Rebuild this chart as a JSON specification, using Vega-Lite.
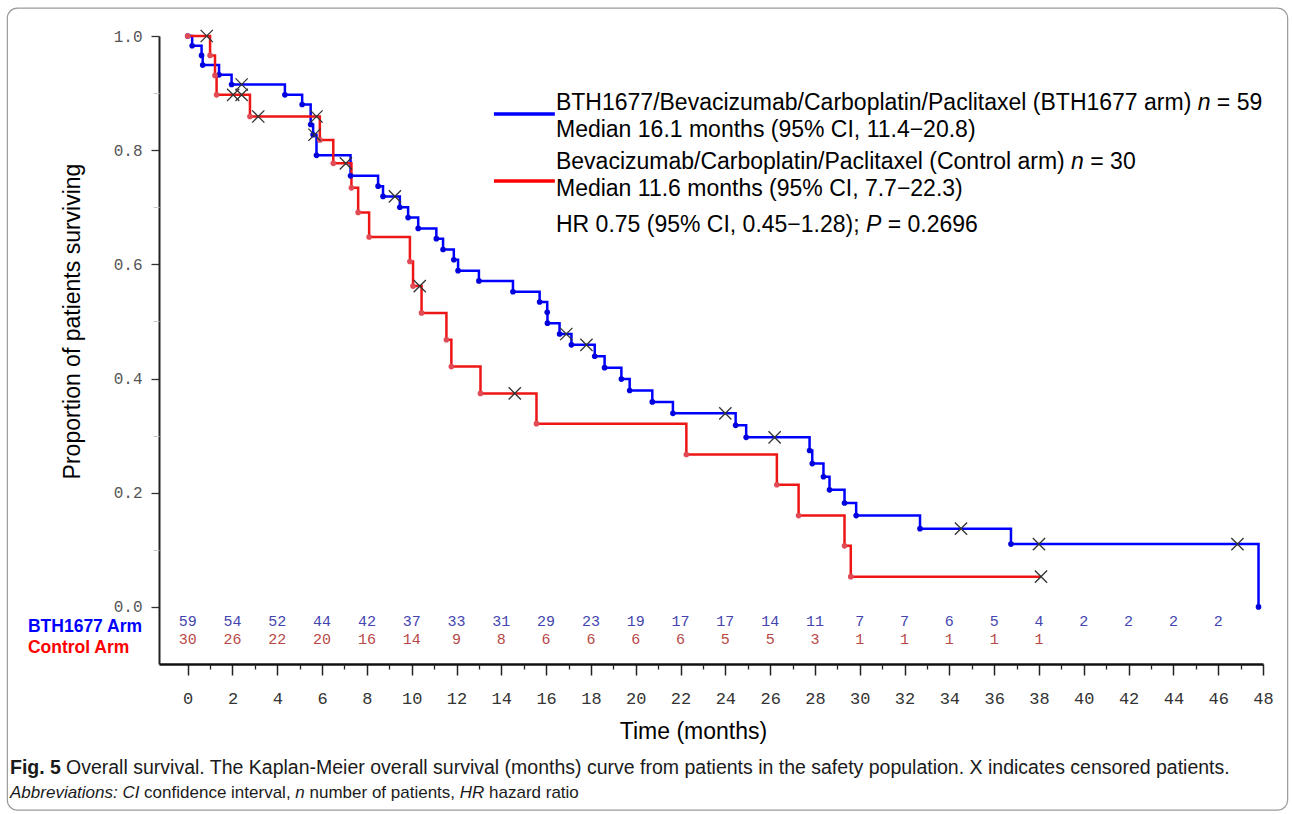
{
  "$schema": "https://vega.github.io/schema/vega-lite/v6.json",
  "width": 1104,
  "height": 628,
  "autosize": {"type": "none"},
  "padding": {"left": 159, "top": 36, "right": 29, "bottom": 150},
  "background": "white",
  "config": {"view": {"stroke": null}},
  "datasets": {
    "km": [
      {"arm": "BTH1677", "time": 0, "surv": 1.0, "kind": "e"},
      {"arm": "BTH1677", "time": 0.2, "surv": 0.983, "kind": "e"},
      {"arm": "BTH1677", "time": 0.62, "surv": 0.966, "kind": "e"},
      {"arm": "BTH1677", "time": 0.67, "surv": 0.949, "kind": "e"},
      {"arm": "BTH1677", "time": 1.4, "surv": 0.932, "kind": "e"},
      {"arm": "BTH1677", "time": 1.96, "surv": 0.915, "kind": "e"},
      {"arm": "BTH1677", "time": 2.41, "surv": 0.915, "kind": "c"},
      {"arm": "BTH1677", "time": 4.34, "surv": 0.897, "kind": "e"},
      {"arm": "BTH1677", "time": 5.11, "surv": 0.88, "kind": "e"},
      {"arm": "BTH1677", "time": 5.49, "surv": 0.845, "kind": "e"},
      {"arm": "BTH1677", "time": 5.6, "surv": 0.827, "kind": "e"},
      {"arm": "BTH1677", "time": 5.66, "surv": 0.827, "kind": "c"},
      {"arm": "BTH1677", "time": 5.75, "surv": 0.791, "kind": "e"},
      {"arm": "BTH1677", "time": 7.27, "surv": 0.755, "kind": "e"},
      {"arm": "BTH1677", "time": 8.5, "surv": 0.737, "kind": "e"},
      {"arm": "BTH1677", "time": 8.72, "surv": 0.719, "kind": "e"},
      {"arm": "BTH1677", "time": 9.25, "surv": 0.719, "kind": "c"},
      {"arm": "BTH1677", "time": 9.47, "surv": 0.7, "kind": "e"},
      {"arm": "BTH1677", "time": 9.84, "surv": 0.682, "kind": "e"},
      {"arm": "BTH1677", "time": 10.29, "surv": 0.663, "kind": "e"},
      {"arm": "BTH1677", "time": 11.1, "surv": 0.645, "kind": "e"},
      {"arm": "BTH1677", "time": 11.4, "surv": 0.626, "kind": "e"},
      {"arm": "BTH1677", "time": 11.88, "surv": 0.608, "kind": "e"},
      {"arm": "BTH1677", "time": 12.07, "surv": 0.589, "kind": "e"},
      {"arm": "BTH1677", "time": 13.0, "surv": 0.571, "kind": "e"},
      {"arm": "BTH1677", "time": 14.52, "surv": 0.552, "kind": "e"},
      {"arm": "BTH1677", "time": 15.71, "surv": 0.534, "kind": "e"},
      {"arm": "BTH1677", "time": 16.05, "surv": 0.516, "kind": "e"},
      {"arm": "BTH1677", "time": 16.06, "surv": 0.497, "kind": "e"},
      {"arm": "BTH1677", "time": 16.6, "surv": 0.478, "kind": "e"},
      {"arm": "BTH1677", "time": 16.9, "surv": 0.478, "kind": "c"},
      {"arm": "BTH1677", "time": 17.13, "surv": 0.459, "kind": "e"},
      {"arm": "BTH1677", "time": 17.8, "surv": 0.459, "kind": "c"},
      {"arm": "BTH1677", "time": 18.17, "surv": 0.439, "kind": "e"},
      {"arm": "BTH1677", "time": 18.61, "surv": 0.419, "kind": "e"},
      {"arm": "BTH1677", "time": 19.36, "surv": 0.399, "kind": "e"},
      {"arm": "BTH1677", "time": 19.73, "surv": 0.379, "kind": "e"},
      {"arm": "BTH1677", "time": 20.74, "surv": 0.359, "kind": "e"},
      {"arm": "BTH1677", "time": 21.66, "surv": 0.339, "kind": "e"},
      {"arm": "BTH1677", "time": 24.0, "surv": 0.339, "kind": "c"},
      {"arm": "BTH1677", "time": 24.46, "surv": 0.318, "kind": "e"},
      {"arm": "BTH1677", "time": 24.93, "surv": 0.297, "kind": "e"},
      {"arm": "BTH1677", "time": 26.2, "surv": 0.297, "kind": "c"},
      {"arm": "BTH1677", "time": 27.76, "surv": 0.274, "kind": "e"},
      {"arm": "BTH1677", "time": 27.88, "surv": 0.251, "kind": "e"},
      {"arm": "BTH1677", "time": 28.38, "surv": 0.228, "kind": "e"},
      {"arm": "BTH1677", "time": 28.65, "surv": 0.205, "kind": "e"},
      {"arm": "BTH1677", "time": 29.32, "surv": 0.182, "kind": "e"},
      {"arm": "BTH1677", "time": 29.84, "surv": 0.16, "kind": "e"},
      {"arm": "BTH1677", "time": 32.69, "surv": 0.137, "kind": "e"},
      {"arm": "BTH1677", "time": 34.52, "surv": 0.137, "kind": "c"},
      {"arm": "BTH1677", "time": 36.75, "surv": 0.11, "kind": "e"},
      {"arm": "BTH1677", "time": 38.0, "surv": 0.11, "kind": "c"},
      {"arm": "BTH1677", "time": 46.86, "surv": 0.11, "kind": "c"},
      {"arm": "BTH1677", "time": 47.8, "surv": 0.0, "kind": "e"},
      {"arm": "Control", "time": 0, "surv": 1.0, "kind": "e"},
      {"arm": "Control", "time": 0.85, "surv": 1.0, "kind": "c"},
      {"arm": "Control", "time": 1.0, "surv": 0.966, "kind": "e"},
      {"arm": "Control", "time": 1.22, "surv": 0.931, "kind": "e"},
      {"arm": "Control", "time": 1.29, "surv": 0.897, "kind": "e"},
      {"arm": "Control", "time": 2.03, "surv": 0.897, "kind": "c"},
      {"arm": "Control", "time": 2.41, "surv": 0.897, "kind": "c"},
      {"arm": "Control", "time": 2.78, "surv": 0.859, "kind": "e"},
      {"arm": "Control", "time": 3.15, "surv": 0.859, "kind": "c"},
      {"arm": "Control", "time": 5.75, "surv": 0.859, "kind": "c"},
      {"arm": "Control", "time": 5.9, "surv": 0.818, "kind": "e"},
      {"arm": "Control", "time": 6.5, "surv": 0.777, "kind": "e"},
      {"arm": "Control", "time": 7.06, "surv": 0.777, "kind": "c"},
      {"arm": "Control", "time": 7.31, "surv": 0.734, "kind": "e"},
      {"arm": "Control", "time": 7.61, "surv": 0.691, "kind": "e"},
      {"arm": "Control", "time": 8.1, "surv": 0.648, "kind": "e"},
      {"arm": "Control", "time": 9.92, "surv": 0.605, "kind": "e"},
      {"arm": "Control", "time": 10.06, "surv": 0.562, "kind": "e"},
      {"arm": "Control", "time": 10.36, "surv": 0.562, "kind": "c"},
      {"arm": "Control", "time": 10.44, "surv": 0.515, "kind": "e"},
      {"arm": "Control", "time": 11.55, "surv": 0.468, "kind": "e"},
      {"arm": "Control", "time": 11.77, "surv": 0.421, "kind": "e"},
      {"arm": "Control", "time": 13.07, "surv": 0.374, "kind": "e"},
      {"arm": "Control", "time": 14.6, "surv": 0.374, "kind": "c"},
      {"arm": "Control", "time": 15.57, "surv": 0.321, "kind": "e"},
      {"arm": "Control", "time": 22.26, "surv": 0.267, "kind": "e"},
      {"arm": "Control", "time": 26.3, "surv": 0.214, "kind": "e"},
      {"arm": "Control", "time": 27.27, "surv": 0.16, "kind": "e"},
      {"arm": "Control", "time": 29.32, "surv": 0.107, "kind": "e"},
      {"arm": "Control", "time": 29.6, "surv": 0.053, "kind": "e"},
      {"arm": "Control", "time": 38.09, "surv": 0.053, "kind": "c"}
    ],
    "risk": [
      {"arm": "BTH1677", "t": 0, "n": 59}, {"arm": "BTH1677", "t": 2, "n": 54}, {"arm": "BTH1677", "t": 4, "n": 52},
      {"arm": "BTH1677", "t": 6, "n": 44}, {"arm": "BTH1677", "t": 8, "n": 42}, {"arm": "BTH1677", "t": 10, "n": 37},
      {"arm": "BTH1677", "t": 12, "n": 33}, {"arm": "BTH1677", "t": 14, "n": 31}, {"arm": "BTH1677", "t": 16, "n": 29},
      {"arm": "BTH1677", "t": 18, "n": 23}, {"arm": "BTH1677", "t": 20, "n": 19}, {"arm": "BTH1677", "t": 22, "n": 17},
      {"arm": "BTH1677", "t": 24, "n": 17}, {"arm": "BTH1677", "t": 26, "n": 14}, {"arm": "BTH1677", "t": 28, "n": 11},
      {"arm": "BTH1677", "t": 30, "n": 7}, {"arm": "BTH1677", "t": 32, "n": 7}, {"arm": "BTH1677", "t": 34, "n": 6},
      {"arm": "BTH1677", "t": 36, "n": 5}, {"arm": "BTH1677", "t": 38, "n": 4}, {"arm": "BTH1677", "t": 40, "n": 2},
      {"arm": "BTH1677", "t": 42, "n": 2}, {"arm": "BTH1677", "t": 44, "n": 2}, {"arm": "BTH1677", "t": 46, "n": 2},
      {"arm": "Control", "t": 0, "n": 30}, {"arm": "Control", "t": 2, "n": 26}, {"arm": "Control", "t": 4, "n": 22},
      {"arm": "Control", "t": 6, "n": 20}, {"arm": "Control", "t": 8, "n": 16}, {"arm": "Control", "t": 10, "n": 14},
      {"arm": "Control", "t": 12, "n": 9}, {"arm": "Control", "t": 14, "n": 8}, {"arm": "Control", "t": 16, "n": 6},
      {"arm": "Control", "t": 18, "n": 6}, {"arm": "Control", "t": 20, "n": 6}, {"arm": "Control", "t": 22, "n": 6},
      {"arm": "Control", "t": 24, "n": 5}, {"arm": "Control", "t": 26, "n": 5}, {"arm": "Control", "t": 28, "n": 3},
      {"arm": "Control", "t": 30, "n": 1}, {"arm": "Control", "t": 32, "n": 1}, {"arm": "Control", "t": 34, "n": 1},
      {"arm": "Control", "t": 36, "n": 1}, {"arm": "Control", "t": 38, "n": 1}
    ]
  },
  "resolve": {"axis": {"x": "independent", "y": "independent"}},
  "layer": [
    {
      "data": {"values": [{}]},
      "mark": {"type": "rect", "fill": null, "fillOpacity": 0, "stroke": "#9a9a9a", "strokeWidth": 1.2, "cornerRadius": 10},
      "encoding": {
        "x": {"datum": -8.05, "type": "quantitative", "scale": {"domain": [-1.28, 48], "nice": false, "zero": false}, "axis": null},
        "x2": {"datum": 49.1},
        "y": {"datum": 1.049, "type": "quantitative", "scale": {"domain": [-0.1, 1.0], "nice": false, "zero": false}, "axis": null},
        "y2": {"datum": -0.356}
      }
    },
    {
      "data": {"name": "km"},
      "mark": {"type": "line", "interpolate": "step-after", "strokeWidth": 2.5},
      "encoding": {
        "x": {"field": "time", "type": "quantitative",
          "axis": {"orient": "bottom", "values": [0,2,4,6,8,10,12,14,16,18,20,22,24,26,28,30,32,34,36,38,40,42,44,46,48], "format": "d",
            "labelFont": "Liberation Mono", "labelFontSize": 17, "labelColor": "#333", "labelPadding": 15, "labelFlush": false, "labelOverlap": false,
            "tickSize": 11, "tickColor": "#222", "tickWidth": 1.5, "domainColor": "#111", "domainWidth": 2.5, "grid": false,
            "title": "Time (months)", "titleFont": "Liberation Sans", "titleFontSize": 23, "titleFontWeight": "normal", "titleColor": "#000",
            "titleX": 534, "titleY": 67, "titleBaseline": "middle", "titleAlign": "center"}},
        "y": {"field": "surv", "type": "quantitative",
          "axis": {"orient": "left", "values": [0, 0.2, 0.4, 0.6, 0.8, 1.0], "format": ".1f",
            "labelFont": "Liberation Mono", "labelFontSize": 16, "labelColor": "#555", "labelPadding": 9, "labelFlush": false, "labelOverlap": false,
            "tickSize": 8, "tickColor": "#333", "tickWidth": 1.3, "domainColor": "#222", "domainWidth": 2, "grid": false,
            "title": "Proportion of patients surviving", "titleFont": "Liberation Sans", "titleFontSize": 23, "titleFontWeight": "normal", "titleColor": "#000",
            "titleX": -87, "titleY": 285, "titleAngle": -90, "titleBaseline": "middle", "titleAlign": "center"}},
        "color": {"field": "arm", "type": "nominal", "scale": {"domain": ["BTH1677", "Control"], "range": ["#0000ff", "#ee1515"]}, "legend": null}
      }
    },
    {
      "data": {"name": "km"},
      "transform": [{"filter": "datum.kind === 'e'"}],
      "mark": {"type": "point", "shape": "circle", "filled": true, "size": 32, "opacity": 1},
      "encoding": {
        "x": {"field": "time", "type": "quantitative",
          "axis": {"orient": "bottom", "values": [1,3,5,7,9,11,13,15,17,19,21,23,25,27,29,31,33,35,37,39,41,43,45,47],
            "labels": false, "domain": false, "grid": false, "tickSize": 5, "tickColor": "#222", "tickWidth": 1.3, "title": null}},
        "y": {"field": "surv", "type": "quantitative",
          "axis": {"orient": "left", "values": [0.1, 0.3, 0.5, 0.7, 0.9], "labels": false, "domain": false, "grid": false,
            "tickSize": 6, "tickColor": "#c8c8c8", "tickWidth": 1, "title": null}},
        "fill": {"field": "arm", "type": "nominal", "scale": {"domain": ["BTH1677", "Control"], "range": ["#0000dd", "#e04b55"]}, "legend": null}
      }
    },
    {
      "data": {"name": "km"},
      "transform": [{"filter": "datum.kind === 'c'"}],
      "mark": {"type": "point", "shape": "M-1,-1L1,1M-1,1L1,-1", "filled": false, "size": 150, "stroke": "#333", "strokeWidth": 1.3, "opacity": 1},
      "encoding": {
        "x": {"field": "time", "type": "quantitative", "axis": null},
        "y": {"field": "surv", "type": "quantitative", "axis": null}
      }
    },
    {
      "data": {"name": "risk"},
      "transform": [{"filter": "datum.arm === 'BTH1677'"}],
      "mark": {"type": "text", "font": "Liberation Mono", "fontSize": 15, "fill": "#4444b0", "align": "center", "baseline": "middle"},
      "encoding": {
        "x": {"field": "t", "type": "quantitative", "axis": null},
        "y": {"datum": -0.0255, "type": "quantitative", "axis": null},
        "text": {"field": "n", "type": "quantitative"}
      }
    },
    {
      "data": {"name": "risk"},
      "transform": [{"filter": "datum.arm === 'Control'"}],
      "mark": {"type": "text", "font": "Liberation Mono", "fontSize": 15, "fill": "#b84848", "align": "center", "baseline": "middle"},
      "encoding": {
        "x": {"field": "t", "type": "quantitative", "axis": null},
        "y": {"datum": -0.0555, "type": "quantitative", "axis": null},
        "text": {"field": "n", "type": "quantitative"}
      }
    },
    {
      "data": {"values": [{}]},
      "mark": {"type": "text", "font": "Liberation Sans", "fontWeight": "bold", "fontSize": 17.5, "fill": "#0000ff", "align": "left", "baseline": "middle", "text": "BTH1677 Arm"},
      "encoding": {"x": {"datum": -7.13, "type": "quantitative", "axis": null}, "y": {"datum": -0.036, "type": "quantitative", "axis": null}}
    },
    {
      "data": {"values": [{}]},
      "mark": {"type": "text", "font": "Liberation Sans", "fontWeight": "bold", "fontSize": 17.5, "fill": "#ff0000", "align": "left", "baseline": "middle", "text": "Control Arm"},
      "encoding": {"x": {"datum": -7.13, "type": "quantitative", "axis": null}, "y": {"datum": -0.0725, "type": "quantitative", "axis": null}}
    },
    {
      "data": {"values": [{}]},
      "mark": {"type": "rule", "stroke": "#0000ff", "strokeWidth": 3.5},
      "encoding": {"x": {"datum": 13.67, "type": "quantitative", "axis": null}, "x2": {"datum": 16.39}, "y": {"datum": 0.8634, "type": "quantitative", "axis": null}}
    },
    {
      "data": {"values": [{}]},
      "mark": {"type": "rule", "stroke": "#ff0000", "strokeWidth": 3.5},
      "encoding": {"x": {"datum": 13.67, "type": "quantitative", "axis": null}, "x2": {"datum": 16.39}, "y": {"datum": 0.746, "type": "quantitative", "axis": null}}
    },
    {
      "data": {"values": [{}]},
      "mark": {"type": "text", "font": "Liberation Sans", "fontSize": 23, "fill": "#000", "align": "left", "baseline": "middle", "text": "BTH1677/Bevacizumab/Carboplatin/Paclitaxel (BTH1677 arm)"},
      "encoding": {"x": {"datum": 16.44, "type": "quantitative", "axis": null}, "y": {"datum": 0.8827, "type": "quantitative", "axis": null}}
    },
    {
      "data": {"values": [{}]},
      "mark": {"type": "text", "font": "Liberation Sans", "fontSize": 23, "fontStyle": "italic", "fill": "#000", "align": "left", "baseline": "middle", "dx": 641.7, "text": "n"},
      "encoding": {"x": {"datum": 16.44, "type": "quantitative", "axis": null}, "y": {"datum": 0.8827, "type": "quantitative", "axis": null}}
    },
    {
      "data": {"values": [{}]},
      "mark": {"type": "text", "font": "Liberation Sans", "fontSize": 23, "fill": "#000", "align": "left", "baseline": "middle", "dx": 660.9, "text": "= 59"},
      "encoding": {"x": {"datum": 16.44, "type": "quantitative", "axis": null}, "y": {"datum": 0.8827, "type": "quantitative", "axis": null}}
    },
    {
      "data": {"values": [{}]},
      "mark": {"type": "text", "font": "Liberation Sans", "fontSize": 23, "fill": "#000", "align": "left", "baseline": "middle", "text": "Median 16.1 months (95% CI, 11.4−20.8)"},
      "encoding": {"x": {"datum": 16.44, "type": "quantitative", "axis": null}, "y": {"datum": 0.8354, "type": "quantitative", "axis": null}}
    },
    {
      "data": {"values": [{}]},
      "mark": {"type": "text", "font": "Liberation Sans", "fontSize": 23, "fill": "#000", "align": "left", "baseline": "middle", "text": "Bevacizumab/Carboplatin/Paclitaxel (Control arm)"},
      "encoding": {"x": {"datum": 16.44, "type": "quantitative", "axis": null}, "y": {"datum": 0.7793, "type": "quantitative", "axis": null}}
    },
    {
      "data": {"values": [{}]},
      "mark": {"type": "text", "font": "Liberation Sans", "fontSize": 23, "fontStyle": "italic", "fill": "#000", "align": "left", "baseline": "middle", "dx": 515.1, "text": "n"},
      "encoding": {"x": {"datum": 16.44, "type": "quantitative", "axis": null}, "y": {"datum": 0.7793, "type": "quantitative", "axis": null}}
    },
    {
      "data": {"values": [{}]},
      "mark": {"type": "text", "font": "Liberation Sans", "fontSize": 23, "fill": "#000", "align": "left", "baseline": "middle", "dx": 534.3, "text": "= 30"},
      "encoding": {"x": {"datum": 16.44, "type": "quantitative", "axis": null}, "y": {"datum": 0.7793, "type": "quantitative", "axis": null}}
    },
    {
      "data": {"values": [{}]},
      "mark": {"type": "text", "font": "Liberation Sans", "fontSize": 23, "fill": "#000", "align": "left", "baseline": "middle", "text": "Median 11.6 months (95% CI, 7.7−22.3)"},
      "encoding": {"x": {"datum": 16.44, "type": "quantitative", "axis": null}, "y": {"datum": 0.732, "type": "quantitative", "axis": null}}
    },
    {
      "data": {"values": [{}]},
      "mark": {"type": "text", "font": "Liberation Sans", "fontSize": 23, "fill": "#000", "align": "left", "baseline": "middle", "text": "HR 0.75 (95% CI, 0.45−1.28);"},
      "encoding": {"x": {"datum": 16.44, "type": "quantitative", "axis": null}, "y": {"datum": 0.669, "type": "quantitative", "axis": null}}
    },
    {
      "data": {"values": [{}]},
      "mark": {"type": "text", "font": "Liberation Sans", "fontSize": 23, "fontStyle": "italic", "fill": "#000", "align": "left", "baseline": "middle", "dx": 310.0, "text": "P"},
      "encoding": {"x": {"datum": 16.44, "type": "quantitative", "axis": null}, "y": {"datum": 0.669, "type": "quantitative", "axis": null}}
    },
    {
      "data": {"values": [{}]},
      "mark": {"type": "text", "font": "Liberation Sans", "fontSize": 23, "fill": "#000", "align": "left", "baseline": "middle", "dx": 331.7, "text": "= 0.2696"},
      "encoding": {"x": {"datum": 16.44, "type": "quantitative", "axis": null}, "y": {"datum": 0.669, "type": "quantitative", "axis": null}}
    },
    {
      "data": {"values": [{}]},
      "mark": {"type": "text", "font": "Liberation Sans", "fontSize": 19.5, "fontWeight": "bold", "fill": "#1a1a1a", "align": "left", "baseline": "middle", "text": "Fig. 5"},
      "encoding": {"x": {"datum": -7.93, "type": "quantitative", "axis": null}, "y": {"datum": -0.282, "type": "quantitative", "axis": null}}
    },
    {
      "data": {"values": [{}]},
      "mark": {"type": "text", "font": "Liberation Sans", "fontSize": 19.5, "fill": "#1a1a1a", "align": "left", "baseline": "middle", "dx": 56, "text": "Overall survival. The Kaplan-Meier overall survival (months) curve from patients in the safety population. X indicates censored patients."},
      "encoding": {"x": {"datum": -7.93, "type": "quantitative", "axis": null}, "y": {"datum": -0.282, "type": "quantitative", "axis": null}}
    },
    {
      "data": {"values": [{}]},
      "mark": {"type": "text", "font": "Liberation Sans", "fontSize": 17, "fontStyle": "italic", "fill": "#1a1a1a", "align": "left", "baseline": "middle", "text": "Abbreviations:"},
      "encoding": {"x": {"datum": -7.93, "type": "quantitative", "axis": null}, "y": {"datum": -0.3257, "type": "quantitative", "axis": null}}
    },
    {
      "data": {"values": [{}]},
      "mark": {"type": "text", "font": "Liberation Sans", "fontSize": 17, "fontStyle": "italic", "fill": "#1a1a1a", "align": "left", "baseline": "middle", "dx": 112.4, "text": "CI"},
      "encoding": {"x": {"datum": -7.93, "type": "quantitative", "axis": null}, "y": {"datum": -0.3257, "type": "quantitative", "axis": null}}
    },
    {
      "data": {"values": [{}]},
      "mark": {"type": "text", "font": "Liberation Sans", "fontSize": 17, "fill": "#1a1a1a", "align": "left", "baseline": "middle", "dx": 134.1, "text": "confidence interval,"},
      "encoding": {"x": {"datum": -7.93, "type": "quantitative", "axis": null}, "y": {"datum": -0.3257, "type": "quantitative", "axis": null}}
    },
    {
      "data": {"values": [{}]},
      "mark": {"type": "text", "font": "Liberation Sans", "fontSize": 17, "fontStyle": "italic", "fill": "#1a1a1a", "align": "left", "baseline": "middle", "dx": 285.3, "text": "n"},
      "encoding": {"x": {"datum": -7.93, "type": "quantitative", "axis": null}, "y": {"datum": -0.3257, "type": "quantitative", "axis": null}}
    },
    {
      "data": {"values": [{}]},
      "mark": {"type": "text", "font": "Liberation Sans", "fontSize": 17, "fill": "#1a1a1a", "align": "left", "baseline": "middle", "dx": 299.5, "text": "number of patients,"},
      "encoding": {"x": {"datum": -7.93, "type": "quantitative", "axis": null}, "y": {"datum": -0.3257, "type": "quantitative", "axis": null}}
    },
    {
      "data": {"values": [{}]},
      "mark": {"type": "text", "font": "Liberation Sans", "fontSize": 17, "fontStyle": "italic", "fill": "#1a1a1a", "align": "left", "baseline": "middle", "dx": 449.7, "text": "HR"},
      "encoding": {"x": {"datum": -7.93, "type": "quantitative", "axis": null}, "y": {"datum": -0.3257, "type": "quantitative", "axis": null}}
    },
    {
      "data": {"values": [{}]},
      "mark": {"type": "text", "font": "Liberation Sans", "fontSize": 17, "fill": "#1a1a1a", "align": "left", "baseline": "middle", "dx": 479.0, "text": "hazard ratio"},
      "encoding": {"x": {"datum": -7.93, "type": "quantitative", "axis": null}, "y": {"datum": -0.3257, "type": "quantitative", "axis": null}}
    }
  ]
}
